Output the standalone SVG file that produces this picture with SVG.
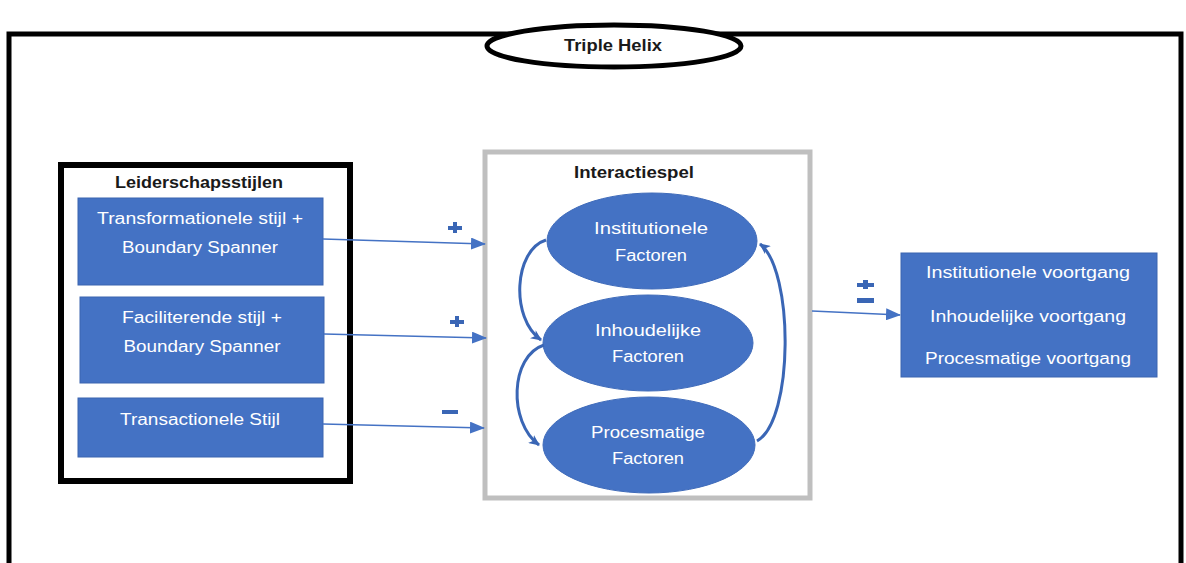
<svg xmlns="http://www.w3.org/2000/svg" width="1186" height="563" viewBox="0 0 1186 563">
  <style>
    .lbl { font-family: "Liberation Sans", Arial, sans-serif; font-size: 16px; fill: #ffffff; text-anchor: middle; }
    .title { font-family: "Liberation Sans", Arial, sans-serif; font-size: 16px; font-weight: bold; fill: #1a1a1a; text-anchor: middle; }
    .box { fill: #4472C4; stroke: #3B65B0; stroke-width: 1; }
    .oval { fill: #4472C4; stroke: #3F6BBA; stroke-width: 1; }
    .link { fill: none; stroke: #4472C4; stroke-width: 1.6; }
    .loop { fill: none; stroke: #3A66B5; stroke-width: 3; }
    .sign { fill: #3A66B5; }
  </style>
  <defs>
    <marker id="arrow" markerWidth="15" markerHeight="12" refX="14" refY="6" orient="auto" markerUnits="userSpaceOnUse">
      <path d="M0,0 L15,6 L0,12 z" fill="#4472C4"/>
    </marker>
    <marker id="head" markerWidth="12" markerHeight="10" refX="10" refY="5" orient="auto" markerUnits="userSpaceOnUse">
      <path d="M0,0 L11,5 L0,10 L3,5 z" fill="#3A66B5"/>
    </marker>
  </defs>

  <rect width="1186" height="563" fill="#ffffff"/>

  <!-- outer frame, open at the bottom -->
  <g id="frame">
    <path d="M9,563 L9,34 L1181,34 L1181,563" fill="none" stroke="#000000" stroke-width="5"/>
  </g>

  <g id="triple-helix">
    <ellipse cx="614" cy="46" rx="127" ry="21" fill="#ffffff" stroke="#000000" stroke-width="5"/>
    <text class="title" x="613" y="51" font-size="15" textLength="98" lengthAdjust="spacingAndGlyphs">Triple Helix</text>
  </g>

  <!-- leadership styles container -->
  <g id="leiderschapsstijlen">
    <rect x="61" y="165" width="289" height="316" fill="#ffffff" stroke="#000000" stroke-width="6"/>
    <text class="title" x="199" y="188" textLength="168" lengthAdjust="spacingAndGlyphs">Leiderschapsstijlen</text>
  </g>

  <g id="transformationele">
    <rect class="box" x="78" y="198" width="245" height="87"/>
    <text class="lbl" x="200" y="224" textLength="206" lengthAdjust="spacingAndGlyphs">Transformationele stijl +</text>
    <text class="lbl" x="200" y="253" textLength="156" lengthAdjust="spacingAndGlyphs">Boundary Spanner</text>
  </g>

  <g id="faciliterende">
    <rect class="box" x="80" y="297" width="244" height="86"/>
    <text class="lbl" x="202" y="323" textLength="160" lengthAdjust="spacingAndGlyphs">Faciliterende stijl +</text>
    <text class="lbl" x="202" y="352" textLength="157" lengthAdjust="spacingAndGlyphs">Boundary Spanner</text>
  </g>

  <g id="transactionele">
    <rect class="box" x="78" y="398" width="245" height="59"/>
    <text class="lbl" x="200" y="425" textLength="160" lengthAdjust="spacingAndGlyphs">Transactionele Stijl</text>
  </g>

  <!-- interaction container -->
  <g id="interactiespel">
    <rect x="485" y="152" width="325" height="346" fill="#ffffff" stroke="#BFBFBF" stroke-width="5"/>
    <text class="title" x="634" y="178" textLength="120" lengthAdjust="spacingAndGlyphs">Interactiespel</text>
  </g>

  <g id="institutionele-factoren">
    <ellipse class="oval" cx="652" cy="241" rx="105" ry="48"/>
    <text class="lbl" x="651" y="234" textLength="114" lengthAdjust="spacingAndGlyphs">Institutionele</text>
    <text class="lbl" x="651" y="261" textLength="72" lengthAdjust="spacingAndGlyphs">Factoren</text>
  </g>

  <g id="inhoudelijke-factoren">
    <ellipse class="oval" cx="648" cy="343" rx="105" ry="48"/>
    <text class="lbl" x="648" y="336" textLength="106" lengthAdjust="spacingAndGlyphs">Inhoudelijke</text>
    <text class="lbl" x="648" y="362" textLength="72" lengthAdjust="spacingAndGlyphs">Factoren</text>
  </g>

  <g id="procesmatige-factoren">
    <ellipse class="oval" cx="649" cy="445" rx="106" ry="48"/>
    <text class="lbl" x="648" y="438" textLength="114" lengthAdjust="spacingAndGlyphs">Procesmatige</text>
    <text class="lbl" x="648" y="464" textLength="72" lengthAdjust="spacingAndGlyphs">Factoren</text>
  </g>

  <g id="voortgang">
    <rect class="box" x="901" y="253" width="256" height="124"/>
    <text class="lbl" x="1028" y="278" textLength="204" lengthAdjust="spacingAndGlyphs">Institutionele voortgang</text>
    <text class="lbl" x="1028" y="322" textLength="196" lengthAdjust="spacingAndGlyphs">Inhoudelijke voortgang</text>
    <text class="lbl" x="1028" y="364" textLength="206" lengthAdjust="spacingAndGlyphs">Procesmatige voortgang</text>
  </g>

  <g id="connectors">
    <line class="link" x1="323" y1="239" x2="485" y2="244" marker-end="url(#arrow)"/>
    <line class="link" x1="324" y1="334" x2="486" y2="338" marker-end="url(#arrow)"/>
    <line class="link" x1="323" y1="424" x2="484" y2="428" marker-end="url(#arrow)"/>
    <line class="link" x1="812" y1="311" x2="900" y2="315" marker-end="url(#arrow)"/>

    <path class="loop" d="M546,240 C514,250 510,318 541,340" marker-end="url(#head)"/>
    <path class="loop" d="M544,345 C510,356 508,422 539,445" marker-end="url(#head)"/>
    <path class="loop" d="M757,441 C794,420 794,270 760,244" marker-end="url(#head)"/>

    <!-- signs -->
    <g class="sign">
      <rect x="448" y="226" width="14" height="4"/><rect x="453" y="222" width="4" height="11"/>
      <rect x="450" y="320" width="14" height="4"/><rect x="455" y="316" width="4" height="11"/>
      <rect x="442" y="410" width="16" height="4"/>
      <rect x="857" y="283" width="17" height="4"/><rect x="863" y="280" width="5" height="9"/>
      <rect x="857" y="298" width="17" height="5"/>
    </g>
  </g>
</svg>
